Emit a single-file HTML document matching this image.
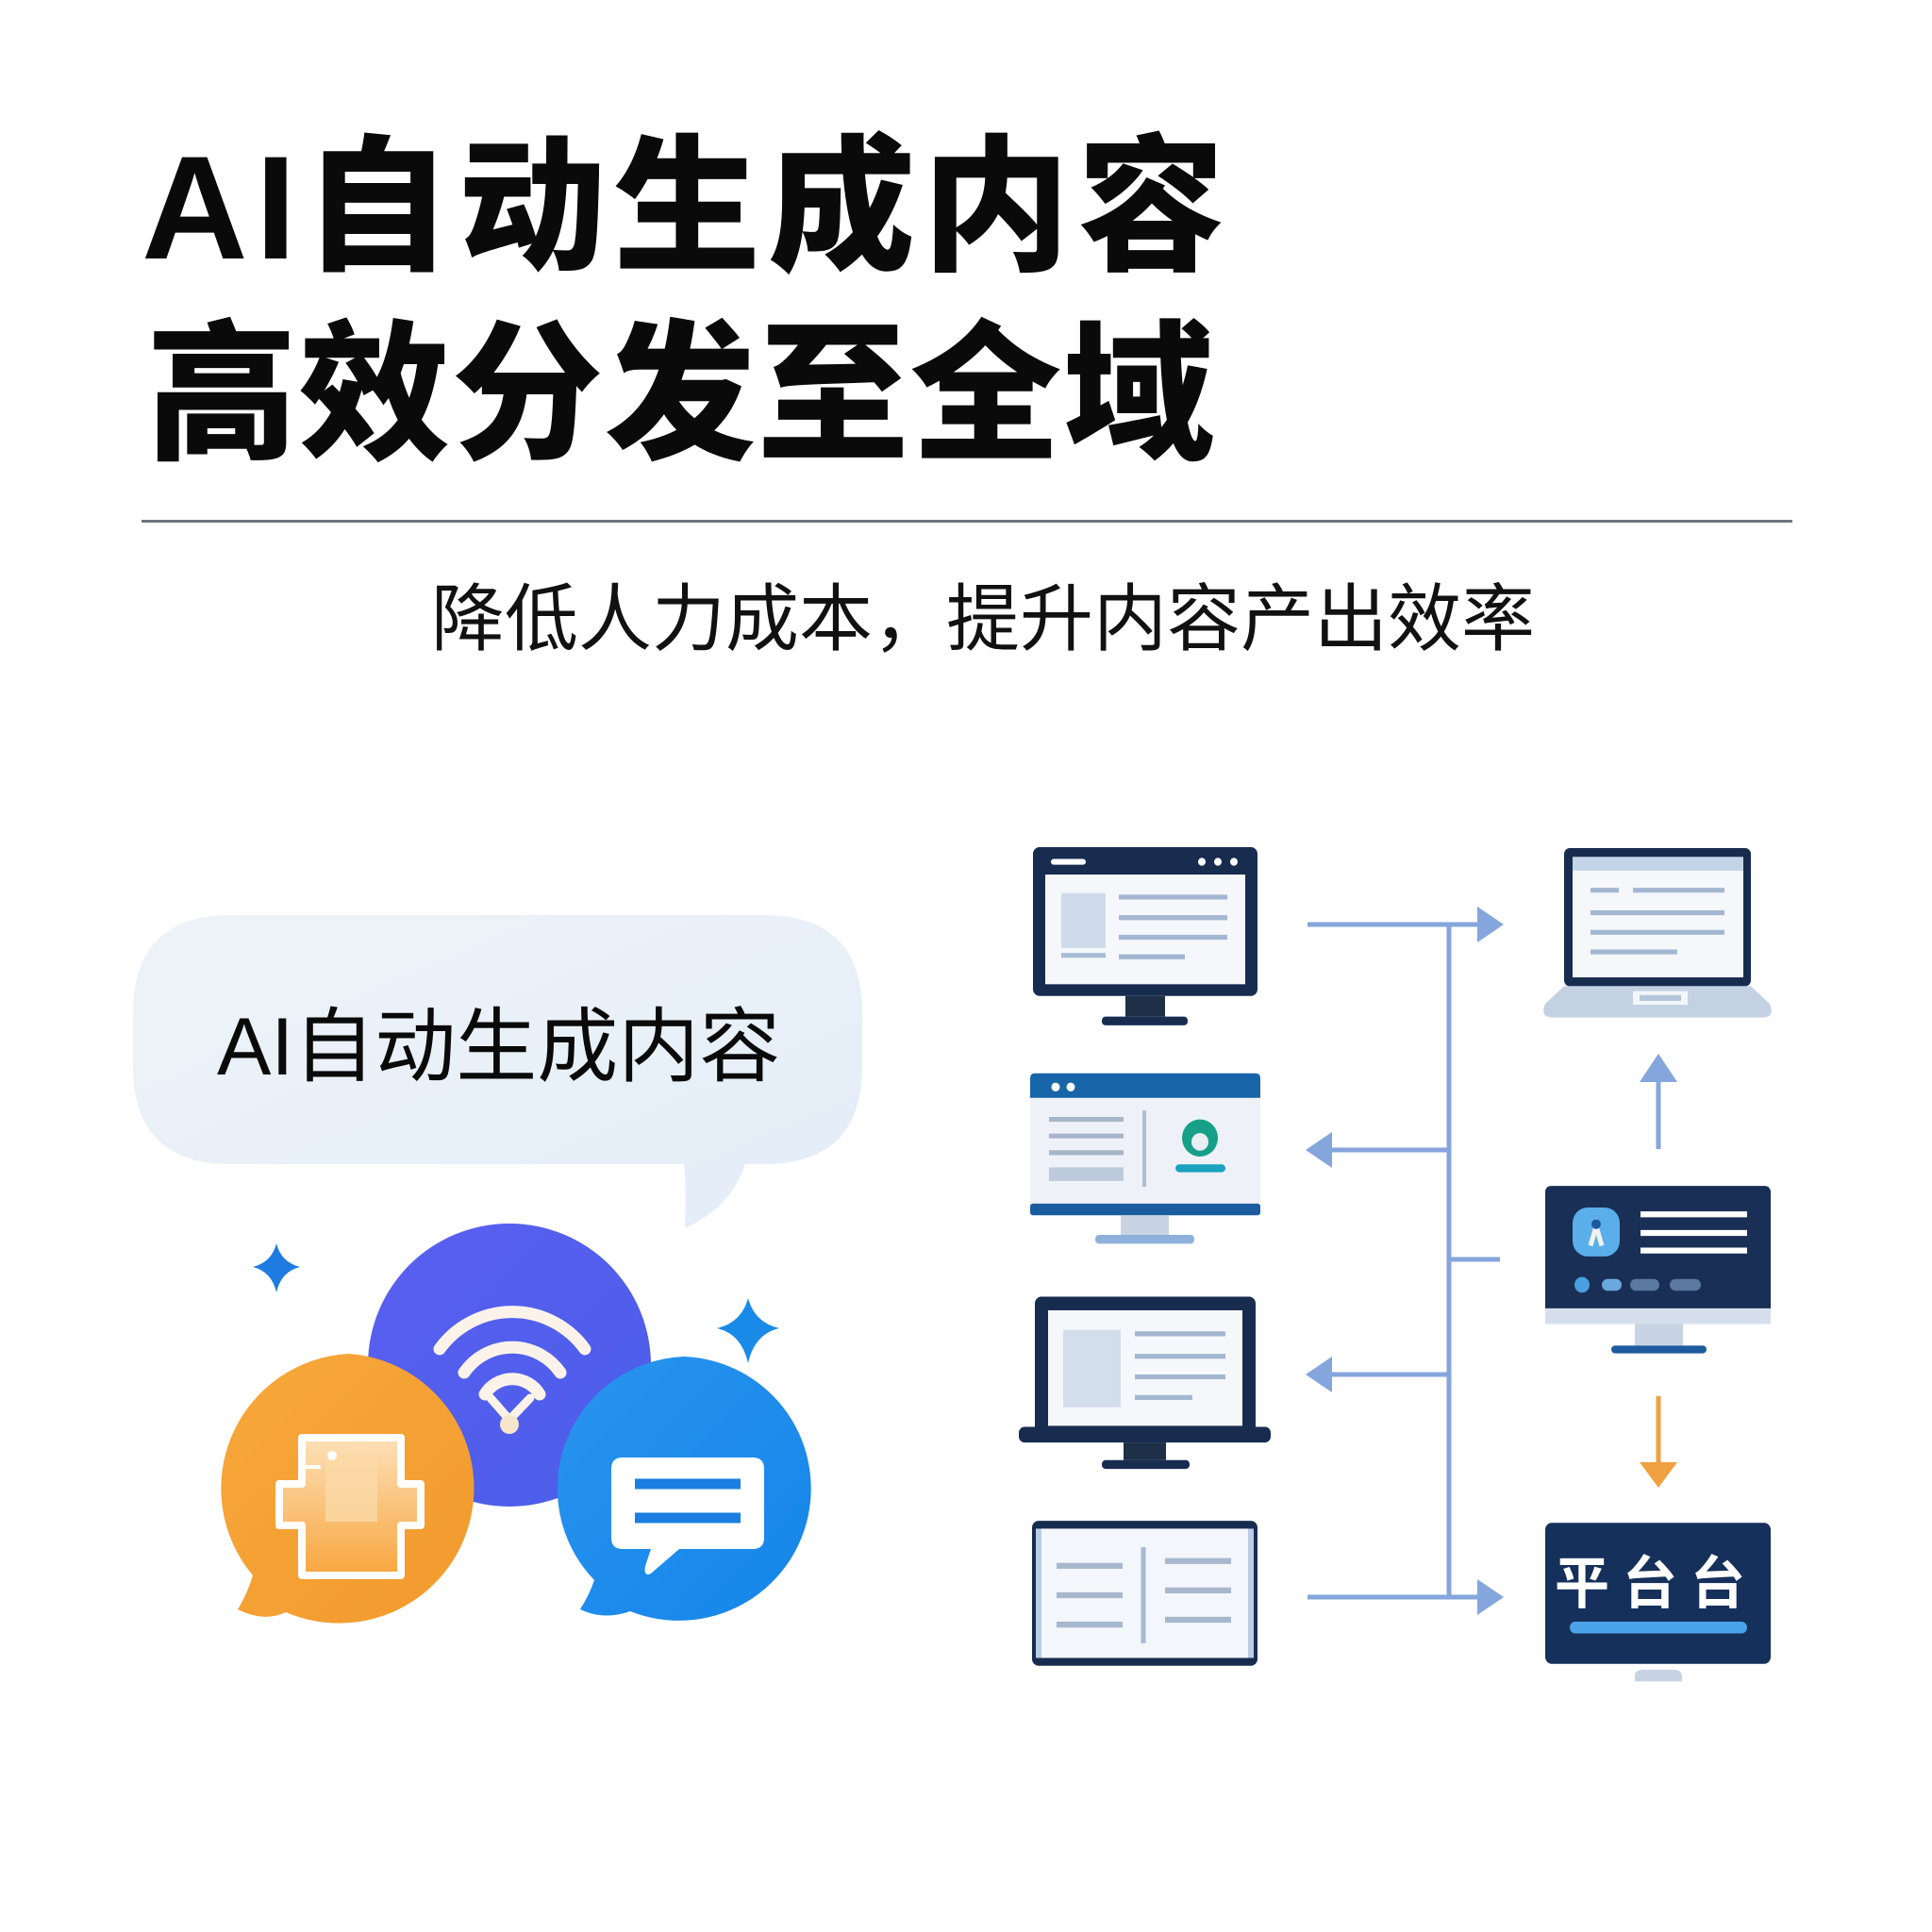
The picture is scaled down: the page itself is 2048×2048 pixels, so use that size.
<!DOCTYPE html>
<html><head><meta charset="utf-8"><style>
html,body{margin:0;padding:0;background:#fff;}
svg{display:block}
</style></head><body>
<svg width="2048" height="2048" viewBox="0 0 2048 2048" xmlns="http://www.w3.org/2000/svg">
<defs>
<linearGradient id="bub" x1="0" y1="0" x2="1" y2="1"><stop offset="0" stop-color="#eef3f8"/><stop offset="1" stop-color="#e3edf8"/></linearGradient>
<linearGradient id="pur" x1="0" y1="0" x2="1" y2="1"><stop offset="0" stop-color="#5a5ff0"/><stop offset="1" stop-color="#4a5ee8"/></linearGradient>
<linearGradient id="org" x1="0" y1="0" x2="1" y2="1"><stop offset="0" stop-color="#f7a83a"/><stop offset="1" stop-color="#f29a2e"/></linearGradient>
<linearGradient id="blu" x1="0" y1="0" x2="1" y2="1"><stop offset="0" stop-color="#2a94ee"/><stop offset="1" stop-color="#1485ea"/></linearGradient>
<linearGradient id="inorg" x1="0" y1="0" x2="0" y2="1"><stop offset="0" stop-color="#fde0b8"/><stop offset="1" stop-color="#f7a63f"/></linearGradient>
</defs>
<g font-family="'Liberation Sans','Noto Sans CJK SC',sans-serif">
<text x="150" y="274" font-size="156" font-weight="900" fill="#0a0a0a" letter-spacing="8">AI自动生成内容</text>
<text x="155" y="474" font-size="160" font-weight="900" fill="#0a0a0a" letter-spacing="2">高效分发至全域</text>
<rect x="150" y="551" width="1750" height="3" fill="#6f757d"/>
<text x="1042" y="683" font-size="78" fill="#111" text-anchor="middle">降低人力成本，提升内容产出效率</text>

<!-- bubble -->
<path d="M245,970 H810 Q914,970 914,1074 V1130 Q914,1234 810,1234 H790 Q775,1280 726,1302 Q728,1260 725,1234 H245 Q141,1234 141,1130 V1074 Q141,970 245,970 Z" fill="url(#bub)"/>
<text x="230" y="1139" font-size="86" fill="#0a0a0a">AI自动生成内容</text>

<!-- sparkles -->
<path d="M293,1318 Q298,1338 318,1343 Q298,1348 293,1370 Q288,1348 268,1343 Q288,1338 293,1318 Z" fill="#1e7be0"/>
<path d="M793,1376 Q800,1402 826,1408 Q800,1414 793,1445 Q786,1414 760,1408 Q786,1402 793,1376 Z" fill="#1a8ae8"/>

<!-- purple -->
<circle cx="540" cy="1447" r="150" fill="url(#pur)"/>
<g fill="none" stroke="#fbf3ea" stroke-linecap="round" stroke-width="13">
<path d="M466,1430 A95,95 0 0 1 620,1430"/>
<path d="M492,1455 A62,62 0 0 1 594,1455"/>
<path d="M514,1478 A34,34 0 0 1 572,1478"/>
<path d="M520,1482 L540,1505 L562,1482" stroke-width="9"/>
</g>
<circle cx="540" cy="1510" r="10" fill="#f8e6cc"/>

<!-- orange -->
<path d="M370,1435 A143,143 0 1 1 303,1709 Q280,1720 252,1706 Q262,1690 268,1670 A143,143 0 0 1 370,1435 Z" fill="url(#org)"/>
<path d="M320,1524 H425 V1573 H446 V1617 H425 V1670 H320 V1617 H296 V1573 H320 Z" fill="url(#inorg)" stroke="#fff" stroke-width="8" stroke-linejoin="round"/>
<rect x="345" y="1543" width="55" height="70" fill="#fbd9a8" opacity="0.8"/>
<circle cx="352" cy="1543" r="5" fill="#fff"/>
<line x1="322" y1="1555" x2="340" y2="1555" stroke="#fff" stroke-width="4"/>

<!-- blue -->
<path d="M725,1438 A140,140 0 1 1 668,1708 Q640,1718 615,1706 Q625,1690 630,1675 A140,140 0 0 1 725,1438 Z" fill="url(#blu)"/>
<path d="M660,1545 H798 Q810,1545 810,1557 V1630 Q810,1642 798,1642 H720 L690,1668 Q682,1672 684,1660 L690,1642 H660 Q648,1642 648,1630 V1557 Q648,1545 660,1545 Z" fill="#fff"/>
<line x1="673" y1="1573" x2="785" y2="1573" stroke="#1a7fe0" stroke-width="11"/>
<line x1="673" y1="1609" x2="785" y2="1609" stroke="#1a7fe0" stroke-width="11"/>

<!-- connectors -->
<g stroke="#84a6dc" stroke-width="5" fill="none">
<line x1="1386" y1="980" x2="1570" y2="980"/>
<line x1="1536" y1="980" x2="1536" y2="1693"/>
<line x1="1536" y1="1219" x2="1410" y2="1219"/>
<line x1="1536" y1="1335" x2="1590" y2="1335"/>
<line x1="1536" y1="1457" x2="1410" y2="1457"/>
<line x1="1386" y1="1693" x2="1570" y2="1693"/>
<line x1="1758" y1="1218" x2="1758" y2="1145"/>
</g>
<g fill="#84a6dc">
<path d="M1566,961 L1594,980 L1566,999 Z"/>
<path d="M1566,1674 L1594,1693 L1566,1712 Z"/>
<path d="M1412,1200 L1384,1219 L1412,1238 Z"/>
<path d="M1412,1438 L1384,1457 L1412,1476 Z"/>
<path d="M1738,1147 L1758,1117 L1778,1147 Z"/>
</g>
<line x1="1758" y1="1480" x2="1758" y2="1552" stroke="#f0a040" stroke-width="5"/>
<path d="M1738,1550 L1758,1577 L1778,1550 Z" fill="#f0a040"/>

<g transform="translate(0,898) scale(1,1.038) translate(0,-898)">
<!-- monitor 1 -->
<rect x="1095" y="898" width="238" height="152" rx="7" fill="#182c50"/>
<rect x="1108" y="926" width="212" height="112" fill="#f5f7fa"/>
<rect x="1114" y="910" width="37" height="6" rx="3" fill="#fff"/>
<circle cx="1274" cy="913" r="4" fill="#fff"/><circle cx="1291" cy="913" r="4" fill="#fff"/><circle cx="1308" cy="913" r="4" fill="#fff"/>
<rect x="1125" y="945" width="47" height="56" fill="#cfdbeb"/>
<rect x="1125" y="1006" width="47" height="5" fill="#a9bdd8"/>
<g stroke="#a3b7d2" stroke-width="5"><line x1="1186" y1="949" x2="1301" y2="949"/><line x1="1186" y1="970" x2="1301" y2="970"/><line x1="1186" y1="990" x2="1301" y2="990"/><line x1="1186" y1="1010" x2="1256" y2="1010"/></g>
<rect x="1193" y="1050" width="42" height="21" fill="#1e2f48"/>
<rect x="1168" y="1071" width="91" height="9" rx="4" fill="#182c50"/>

<!-- monitor 2 -->
<rect x="1092" y="1129" width="244" height="145" rx="5" fill="#eef2f8"/>
<path d="M1097,1129 H1331 Q1336,1129 1336,1134 V1154 H1092 V1134 Q1092,1129 1097,1129 Z" fill="#1765a8"/>
<rect x="1092" y="1262" width="244" height="12" rx="3" fill="#1a5c9e"/>
<circle cx="1119" cy="1143" r="4.5" fill="#fff"/><circle cx="1135" cy="1143" r="4.5" fill="#fff"/>
<g stroke="#a7b5c8" stroke-width="5"><line x1="1112" y1="1176" x2="1191" y2="1176"/><line x1="1112" y1="1193" x2="1191" y2="1193"/><line x1="1112" y1="1210" x2="1191" y2="1210"/></g>
<rect x="1112" y="1225" width="79" height="14" fill="#bccadc"/>
<line x1="1213" y1="1167" x2="1213" y2="1245" stroke="#aebdd0" stroke-width="4"/>
<circle cx="1272" cy="1195" r="19" fill="#16a088"/><circle cx="1272" cy="1199" r="9" fill="#e9eef3"/>
<rect x="1246" y="1222" width="53" height="8" rx="4" fill="#1aa2c0"/>
<rect x="1188" y="1274" width="51" height="20" fill="#c8d4e4"/>
<rect x="1161" y="1294" width="105" height="9" rx="4" fill="#8fb0dc"/>

<!-- monitor 3 -->
<rect x="1097" y="1357" width="234" height="140" rx="7" fill="#182c50"/>
<rect x="1111" y="1371" width="206" height="118" fill="#f5f7fa"/>
<rect x="1080" y="1490" width="267" height="16" rx="6" fill="#182c50"/>
<rect x="1127" y="1391" width="61" height="79" fill="#d3deec"/>
<g stroke="#a3b7d2" stroke-width="5"><line x1="1203" y1="1395" x2="1299" y2="1395"/><line x1="1203" y1="1418" x2="1299" y2="1418"/><line x1="1203" y1="1439" x2="1299" y2="1439"/><line x1="1203" y1="1460" x2="1264" y2="1460"/></g>
<rect x="1191" y="1506" width="45" height="18" fill="#1e2f48"/>
<rect x="1168" y="1524" width="93" height="9" rx="4" fill="#182c50"/>

<!-- monitor 4 -->
<rect x="1094" y="1586" width="239" height="148" rx="7" fill="#182c50"/>
<rect x="1098" y="1594" width="231" height="132" fill="#b9cde6"/>
<rect x="1104" y="1594" width="219" height="132" fill="#f3f6fa"/>
<line x1="1212" y1="1613" x2="1212" y2="1711" stroke="#a7b8ce" stroke-width="5"/>
<g stroke="#a7b8ce" stroke-width="6"><line x1="1120" y1="1632" x2="1190" y2="1632"/><line x1="1120" y1="1662" x2="1190" y2="1662"/><line x1="1120" y1="1692" x2="1190" y2="1692"/><line x1="1235" y1="1627" x2="1305" y2="1627"/><line x1="1235" y1="1657" x2="1305" y2="1657"/><line x1="1235" y1="1687" x2="1305" y2="1687"/></g>

<!-- laptop -->
<rect x="1658" y="899" width="198" height="141" rx="6" fill="#182c50"/>
<rect x="1667" y="908" width="181" height="123" fill="#f5f7fa"/>
<rect x="1667" y="908" width="181" height="14" fill="#c3d3e8"/>
<g stroke="#a3b7d2" stroke-width="5"><line x1="1686" y1="942" x2="1716" y2="942"/><line x1="1731" y1="942" x2="1828" y2="942"/><line x1="1686" y1="965" x2="1828" y2="965"/><line x1="1686" y1="985" x2="1828" y2="985"/><line x1="1686" y1="1005" x2="1778" y2="1005"/></g>
<path d="M1658,1040 H1856 L1876,1058 Q1882,1072 1868,1072 H1646 Q1632,1072 1638,1058 Z" fill="#c3d1e2"/>
<rect x="1731" y="1045" width="58" height="14" fill="#f3f6fa"/>
<rect x="1738" y="1049" width="44" height="6" fill="#b5c6dc"/>

<!-- monitor 5 -->
<rect x="1638" y="1244" width="239" height="141" rx="6" fill="#1a2f55"/>
<rect x="1638" y="1369" width="239" height="16" fill="#d5dfec"/>
<rect x="1667" y="1266" width="50" height="50" rx="16" fill="#5aaeea"/>
<path d="M1686,1305 L1692,1285 L1698,1305" stroke="#f1f1f1" stroke-width="5" fill="none"/><circle cx="1692" cy="1283" r="5" fill="#1d5a9e"/>
<g stroke="#fff" stroke-width="6"><line x1="1739" y1="1273" x2="1852" y2="1273"/><line x1="1739" y1="1292" x2="1852" y2="1292"/><line x1="1739" y1="1310" x2="1852" y2="1310"/></g>
<circle cx="1677" cy="1345" r="8" fill="#4a9fe0"/>
<rect x="1698" y="1339" width="21" height="12" rx="6" fill="#6aa8de"/>
<rect x="1728" y="1339" width="31" height="12" rx="6" fill="#5a78a0"/>
<rect x="1770" y="1339" width="33" height="12" rx="6" fill="#5a78a0"/>
<rect x="1733" y="1385" width="51" height="22" fill="#c8d4e4"/>
<rect x="1708" y="1407" width="101" height="8" rx="4" fill="#1d5a9e"/>

<!-- platform -->
<rect x="1638" y="1588" width="239" height="144" rx="7" fill="#15305a"/>
<text x="1756" y="1670" font-size="58" font-weight="bold" fill="#fff" text-anchor="middle" letter-spacing="14">平台台</text>
<rect x="1664" y="1689" width="188" height="12" rx="6" fill="#4aa3e8"/>
<path d="M1733,1744 Q1733,1738 1743,1738 H1773 Q1783,1738 1783,1744 V1750 H1733 Z" fill="#c8d4e4"/>
</g>
</g>
</svg>
</body></html>
